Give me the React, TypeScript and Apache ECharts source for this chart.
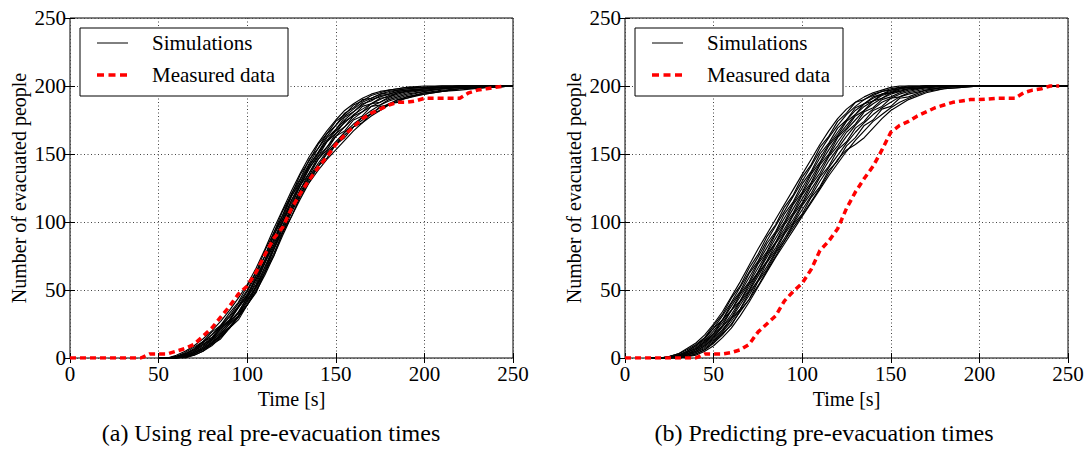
import React, { useEffect, useRef } from "react";
import * as echarts from "echarts";

// ---------- data: plot (a) real pre-evacuation times ----------
const timeA = [50,55,60,65,70,75,80,85,90,95,100,105,110,115,120,125,130,135,140,145,150,155,160,165,170,175,180,185,190,200,210,220,235,250];
const simA1 = [0,0,2,5,9,14,20,27,35,44,54,66,80,95,109,123,136,148,158,167,175,182,187,191,194,196,197,198,199,200,200,200,200,200];
const simA2 = [0,0,1,4,8,12,19,24,33,41,53,63,79,92,108,120,135,145,157,165,174,179,186,189,193,195,197,198,199,199,200,200,200,200];
const simA3 = [0,0,1,3,7,12,17,24,31,40,50,63,75,92,105,121,132,146,154,165,171,180,184,190,191,194,196,197,198,199,200,200,200,200];
const simA4 = [0,0,0,3,6,11,17,23,30,38,49,61,75,90,105,119,131,143,154,163,171,178,183,188,191,194,195,197,198,199,199,200,200,200];
const simA5 = [0,0,1,3,6,12,15,23,28,38,46,60,72,90,103,119,129,142,151,162,168,177,181,187,189,193,194,196,197,198,199,200,200,200];
const simA6 = [0,0,0,2,5,10,15,21,28,37,47,58,72,87,102,116,129,141,151,160,168,175,181,186,190,192,194,196,197,198,199,200,200,200];
const simA7 = [0,0,0,2,5,9,14,22,27,37,45,58,70,87,100,116,127,140,148,159,165,174,178,185,187,191,192,195,196,198,199,199,200,200];
const simA8 = [0,0,1,3,6,10,14,20,26,34,44,56,70,85,100,114,127,139,150,159,167,173,179,183,187,190,193,195,196,198,199,200,200,200];
const simA9 = [0,0,0,1,4,8,13,19,27,33,45,54,70,83,100,112,127,136,148,155,165,170,178,181,187,188,192,194,196,197,198,199,200,200];
const simA10 = [0,0,0,2,4,8,13,18,25,33,42,53,67,82,97,111,124,136,146,155,163,170,176,181,185,188,191,193,195,197,198,199,200,200];
const simA11 = [0,0,0,1,4,7,12,17,25,31,43,52,67,80,97,109,124,134,146,153,163,167,175,178,185,186,190,192,194,196,198,199,200,200];
const simA12 = [0,0,0,1,3,7,11,17,23,31,41,52,65,80,95,109,122,133,143,152,159,166,172,177,182,186,189,191,193,196,198,199,199,200];
const simA13 = [0,0,0,1,3,6,11,16,22,31,39,52,63,80,93,109,120,133,141,151,157,166,170,177,179,185,186,190,191,195,197,198,199,200];
const simA14 = [0,0,0,0,3,6,10,16,22,30,39,50,63,77,92,107,120,131,141,150,157,164,170,175,180,184,187,190,192,195,196,198,199,200];
const simA15 = [0,0,0,1,2,5,10,14,22,28,39,48,63,75,92,104,119,129,141,147,157,162,170,173,180,182,187,188,192,194,196,198,199,200];
const simA16 = [0,0,0,0,2,5,9,15,22,30,39,49,61,75,90,104,117,129,138,146,153,160,167,173,178,182,186,189,191,194,196,197,199,200];
const simsA = [simA1, simA2, simA3, simA4, simA5, simA6, simA7, simA8, simA9, simA10, simA11, simA12, simA13, simA14, simA15, simA16];

const measTimeA = [0,40,45,55,60,65,70,75,80,85,90,95,100,105,110,115,120,125,130,135,140,145,150,155,160,165,170,175,180,185,190,195,200,210,220,225,230,235,240,245];
const measA = [0,0,3,3,5,7,10,16,22,30,38,47,53,63,76,88,96,110,121,131,140,148,157,164,170,176,180,183,186,188,188,189,191,191,191,195,197,198,199,200];

// ---------- data: plot (b) predicting pre-evacuation times ----------
const timeB = [15,20,25,30,35,40,45,50,55,60,65,70,75,80,85,90,95,100,105,110,115,120,125,130,135,140,145,150,155,160,170,180,190,200,220,250];
const simB1 = [0,0,1,3,7,11,17,25,34,45,56,68,80,91,102,113,124,135,146,157,167,176,183,188,192,195,197,199,200,200,200,200,200,200,200,200];
const simB2 = [0,0,1,3,6,10,15,24,32,44,53,66,76,89,98,111,120,133,142,155,163,174,180,188,190,194,196,198,199,200,200,200,200,200,200,200];
const simB3 = [0,0,1,2,5,9,15,22,31,41,52,63,74,86,97,108,119,130,141,152,162,171,179,185,190,193,196,197,199,199,200,200,200,200,200,200];
const simB4 = [0,0,0,2,5,9,14,22,28,40,49,62,71,84,93,106,115,128,137,150,158,169,175,184,187,192,194,197,198,199,200,200,200,200,200,200];
const simB5 = [0,0,1,2,4,8,13,20,28,38,48,59,70,81,92,103,114,125,136,147,157,166,175,182,187,191,194,196,198,199,200,200,200,200,200,200];
const simB6 = [0,0,0,2,4,7,12,18,28,35,47,56,69,78,91,100,113,122,135,144,156,164,174,179,187,189,194,195,198,199,200,200,200,200,200,200];
const simB7 = [0,0,0,1,4,7,12,18,26,35,45,55,66,77,88,99,110,121,132,143,153,163,171,179,185,189,193,195,197,198,199,200,200,200,200,200];
const simB8 = [0,0,0,1,3,6,11,17,24,35,42,54,63,76,85,98,107,120,129,142,150,162,169,178,182,189,191,195,196,198,199,200,200,200,200,200];
const simB9 = [0,0,0,1,3,6,10,16,23,32,42,52,63,74,85,95,106,117,128,139,149,159,168,175,182,187,191,194,196,198,199,200,200,200,200,200];
const simB10 = [0,0,0,1,3,5,9,15,23,30,41,50,62,71,84,93,105,114,127,136,148,156,166,172,181,184,190,192,195,197,199,200,200,200,200,200];
const simB11 = [0,0,0,1,2,5,9,14,21,29,39,49,60,71,81,92,102,113,124,134,145,154,163,171,178,183,188,191,194,196,199,200,200,200,200,200];
const simB12 = [0,0,0,0,2,4,8,13,20,29,36,48,57,70,79,91,100,112,121,133,141,153,159,169,174,182,185,191,192,195,198,199,200,200,200,200];
const simB13 = [0,0,0,0,2,4,7,12,19,27,36,46,57,67,78,88,99,109,119,130,140,149,158,166,173,179,184,188,192,194,197,199,200,200,200,200];
const simB14 = [0,0,0,0,1,3,6,11,18,24,35,43,56,65,77,86,98,106,118,126,138,145,156,162,171,175,183,185,191,192,197,199,200,200,200,200];
const simB15 = [0,0,0,0,1,2,5,9,15,22,31,41,52,63,74,84,94,104,114,124,134,143,152,160,167,174,179,184,188,191,196,198,199,200,200,200];
const simB16 = [0,0,0,0,1,3,6,11,17,25,34,43,53,64,75,86,96,105,115,125,136,146,153,157,162,169,176,182,186,190,195,198,199,200,200,200];
const simsB = [simB1, simB2, simB3, simB4, simB5, simB6, simB7, simB8, simB9, simB10, simB11, simB12, simB13, simB14, simB15, simB16];

const measTimeB = [0,40,45,55,60,65,70,75,80,85,90,95,100,105,110,115,120,125,130,135,140,145,150,155,160,165,170,175,180,185,190,195,200,210,220,225,230,235,240,245];
const measB = [0,0,3,3,4,6,10,19,25,31,42,49,55,65,79,86,95,110,122,132,141,153,166,171,174,178,181,184,186,188,189,190,190,191,191,195,197,198,200,200];

const axisTicks = [0, 50, 100, 150, 200, 250];
const captions = ["(a) Using real pre-evacuation times", "(b) Predicting pre-evacuation times"];
const legendNames = ["Simulations", "Measured data"];
const xName = "Time [s]";
const yName = "Number of evacuated people";

const FONT = "'Liberation Serif', 'Times New Roman', serif";

const zip = (xs: number[], ys: number[]) => xs.map((x, i) => [x, ys[i]]);

export default function App() {
  const ref = useRef<HTMLDivElement>(null);
  useEffect(() => {
    if (!ref.current) return;
    const chart = echarts.init(ref.current, null, { renderer: "svg" });
    const grids = [
      { left: 70, top: 18, width: 443, height: 340 },
      { left: 625, top: 18, width: 443, height: 340 },
    ];
    const xAxes: any[] = [];
    const yAxes: any[] = [];
    const series: any[] = [];
    const graphic: any[] = [];
    const split = { show: true, lineStyle: { color: "#444", width: 1, type: [1, 2.5] } };
    const tick = { show: true, inside: true, length: 5, lineStyle: { color: "#000" } };
    grids.forEach((g, gi) => {
      const base = { min: axisTicks[0], max: axisTicks[axisTicks.length - 1], interval: 50, gridIndex: gi, type: "value" };
      xAxes.push({
        ...base, position: "bottom",
        axisLine: { show: false }, axisTick: tick,
        axisLabel: { show: true, margin: 5, fontFamily: FONT, fontSize: 21, color: "#000" },
        splitLine: split,
        name: xName, nameLocation: "middle", nameGap: 24,
        nameTextStyle: { fontFamily: FONT, fontSize: 20, color: "#000", verticalAlign: "top" },
      });
      xAxes.push({
        ...base, position: "top",
        axisLine: { show: false }, axisTick: tick,
        axisLabel: { show: false }, splitLine: { show: false },
      });
      yAxes.push({
        ...base, position: "left",
        axisLine: { show: false }, axisTick: tick,
        axisLabel: { show: true, margin: 4, fontFamily: FONT, fontSize: 21, color: "#000" },
        splitLine: split,
        name: yName, nameLocation: "middle", nameGap: 41,
        nameTextStyle: { fontFamily: FONT, fontSize: 20, color: "#000" },
      });
      yAxes.push({
        ...base, position: "right",
        axisLine: { show: false }, axisTick: tick,
        axisLabel: { show: false }, splitLine: { show: false },
      });
      const sims = gi === 0 ? simsA : simsB;
      const tArr = gi === 0 ? timeA : timeB;
      sims.forEach((s, si) => {
        series.push({
          type: "line", name: legendNames[0] + "_" + gi + "_" + si,
          xAxisIndex: gi * 2, yAxisIndex: gi * 2,
          data: zip(tArr, s), symbol: "none", smooth: false,
          lineStyle: { color: "#000", width: 1.15 }, z: 2,
        });
      });
      series.push({
        type: "line", name: legendNames[1] + "_" + gi,
        xAxisIndex: gi * 2, yAxisIndex: gi * 2,
        data: zip(gi === 0 ? measTimeA : measTimeB, gi === 0 ? measA : measB),
        symbol: "none",
        lineStyle: { color: "#ff0000", width: 3.5, type: [6, 4] }, z: 3,
      });
      const lx = g.left + 10;
      graphic.push({
        type: "rect", z: 100,
        shape: { x: lx, y: 28, width: 208, height: 68 },
        style: { fill: "#fff", stroke: "#000", lineWidth: 1 },
      });
      graphic.push({
        type: "line", z: 101,
        shape: { x1: lx + 17, y1: 43, x2: lx + 48, y2: 43 },
        style: { stroke: "#000", lineWidth: 1 },
      });
      graphic.push({
        type: "line", z: 101,
        shape: { x1: lx + 17, y1: 75, x2: lx + 48, y2: 75 },
        style: { stroke: "#ff0000", lineWidth: 3.5, lineDash: [7, 4.5] },
      });
      graphic.push({
        type: "text", z: 101, x: lx + 72, y: 43,
        style: { text: legendNames[0], font: `21px ${FONT}`, fill: "#000", verticalAlign: "middle", align: "left" },
      });
      graphic.push({
        type: "text", z: 101, x: lx + 72, y: 75,
        style: { text: legendNames[1], font: `21px ${FONT}`, fill: "#000", verticalAlign: "middle", align: "left" },
      });
      graphic.push({
        type: "text", z: 101, x: gi === 0 ? 271 : 824, y: 433,
        style: { text: captions[gi], font: `24px ${FONT}`, fill: "#000", verticalAlign: "middle", align: "center" },
      });
    });
    chart.setOption({
      animation: false,
      backgroundColor: "#fff",
      grid: grids.map((g) => ({ ...g, show: true, borderColor: "#000", borderWidth: 1, backgroundColor: "transparent" })),
      xAxis: xAxes,
      yAxis: yAxes,
      series,
      graphic,
    });
    return () => chart.dispose();
  }, []);
  return (
    <div
      ref={ref}
      style={{ position: "fixed", left: 0, top: 0, width: 1088, height: 449, background: "#fff" }}
    />
  );
}
